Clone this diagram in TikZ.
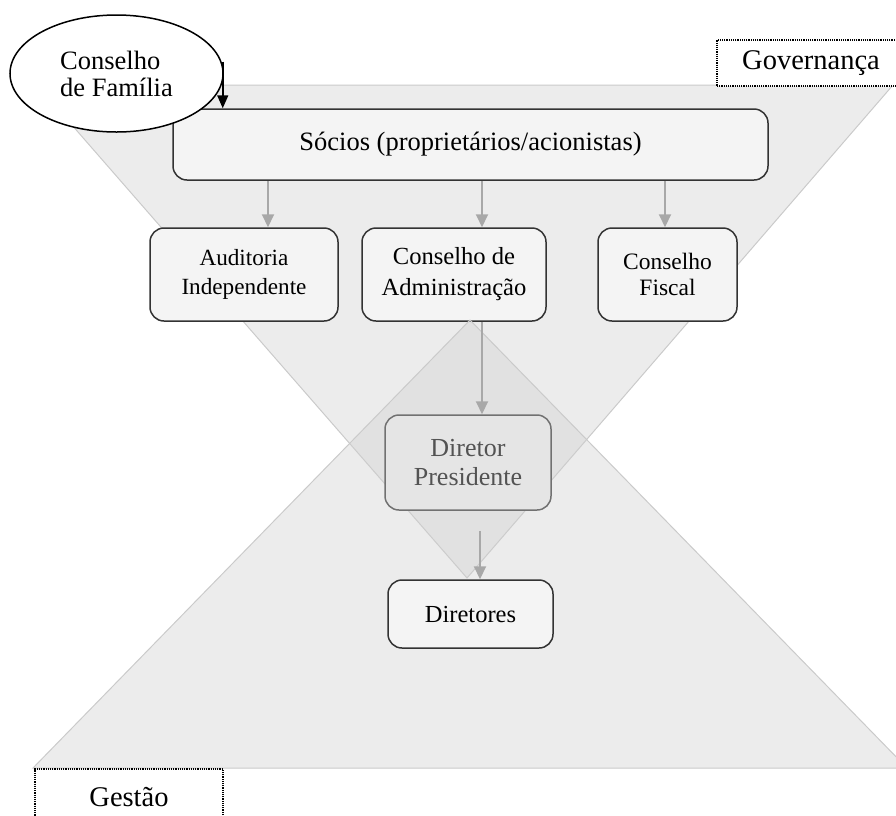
\documentclass[tikz,border=0pt]{standalone}
\usepackage{fontspec}
\setmainfont{Liberation Serif}
\usetikzlibrary{arrows.meta, positioning, shapes.geometric, calc}

\definecolor{boxfill}{HTML}{F4F4F4}
\definecolor{trifill}{HTML}{D0D0D0}
\definecolor{triline}{HTML}{CACACA}
\definecolor{arrgray}{HTML}{A8A8A8}
\definecolor{boxline}{HTML}{333333}

\begin{document}
\begin{tikzpicture}[
  x=1pt, y=-1pt,
  orgbox/.style={draw=boxline, line width=1.5pt, rounded corners=14pt,
                 fill=boxfill, align=center, inner sep=2pt},
  tagbox/.style={draw, densely dotted, line width=1.2pt, fill=white,
                 font=\fontsize{28.5}{32}\selectfont},
  tri/.style={fill=trifill, fill opacity=0.4, draw=triline, line width=1pt},
  arr/.style={-{Triangle[length=13pt,width=12pt]}, draw=arrgray, line width=2pt},
  famarr/.style={-{Triangle[length=13pt,width=11pt]}, draw=black, line width=1.5pt}
]
\useasboundingbox (0,0) rectangle (896,815);

%% ---- Governance (inverted) triangle ----
\draw[tri] (37,85) -- (893,85) -- (467,578) -- cycle;

%% ---- Top of the structure ----
\node[orgbox, minimum width=595pt, minimum height=71pt,
      font=\fontsize{26.5}{30}\selectfont] (socios) at (470.5,144.5)
      {Sócios (proprietários/acionistas)};

\node[orgbox, minimum width=188pt, minimum height=93pt,
      font=\fontsize{23.2}{29}\selectfont] (audit) at (244,274.5)
      {Auditoria\\Independente};
\node[orgbox, minimum width=184pt, minimum height=93pt,
      font=\fontsize{24.6}{31}\selectfont] (admin) at (454,274.5)
      {Conselho de\\Administração};
\node[orgbox, minimum width=139pt, minimum height=93pt,
      font=\fontsize{23.5}{26}\selectfont] (fiscal) at (667.5,274.5)
      {Conselho\\Fiscal};

\node[orgbox, minimum width=166pt, minimum height=95pt,
      font=\fontsize{26}{29}\selectfont] (presid) at (468,462.5)
      {Diretor\\Presidente};

%% ---- Management (upright) triangle ----
\draw[tri] (33,768) -- (470,320) -- (907,768) -- cycle;

\node[orgbox, minimum width=165pt, minimum height=68pt,
      font=\fontsize{24.5}{28}\selectfont] (diret) at (470.5,614)
      {Diretores};

% family council
\node[ellipse, draw=black, line width=1.5pt, fill=white, inner sep=0pt,
      minimum width=213pt, minimum height=117pt, align=left,
      font=\fontsize{26.5}{27}\selectfont] (familia) at (116.5,73.5)
      {Conselho\\de Família};

% labels
\node[tagbox, minimum width=188pt, minimum height=46pt] (gov) at (811,63) {Governança};
\node[tagbox, minimum width=188pt, minimum height=56pt] (gest) at (129,797) {Gestão};

%% ---- connectors ----
\coordinate (famtip) at ($(familia.east)+(-1,-12)$);
\draw[famarr] (famtip) -- (famtip |- socios.north);

\draw[arr] ($(audit.north |- socios.south)+(24,0)$)  -- ($(audit.north)+(24,0)$);
\draw[arr] ($(admin.north |- socios.south)+(28,0)$)  -- ($(admin.north)+(28,0)$);
\draw[arr] ($(fiscal.north |- socios.south)+(-2.5,0)$) -- ($(fiscal.north)+(-2.5,0)$);
\draw[arr] ($(admin.south)+(28,0)$)  -- ($(presid.north)+(14,0)$);
\draw[arr] ($(presid.south)+(12,20)$) -- ($(diret.north)+(9.5,0)$);

\end{tikzpicture}
\end{document}
